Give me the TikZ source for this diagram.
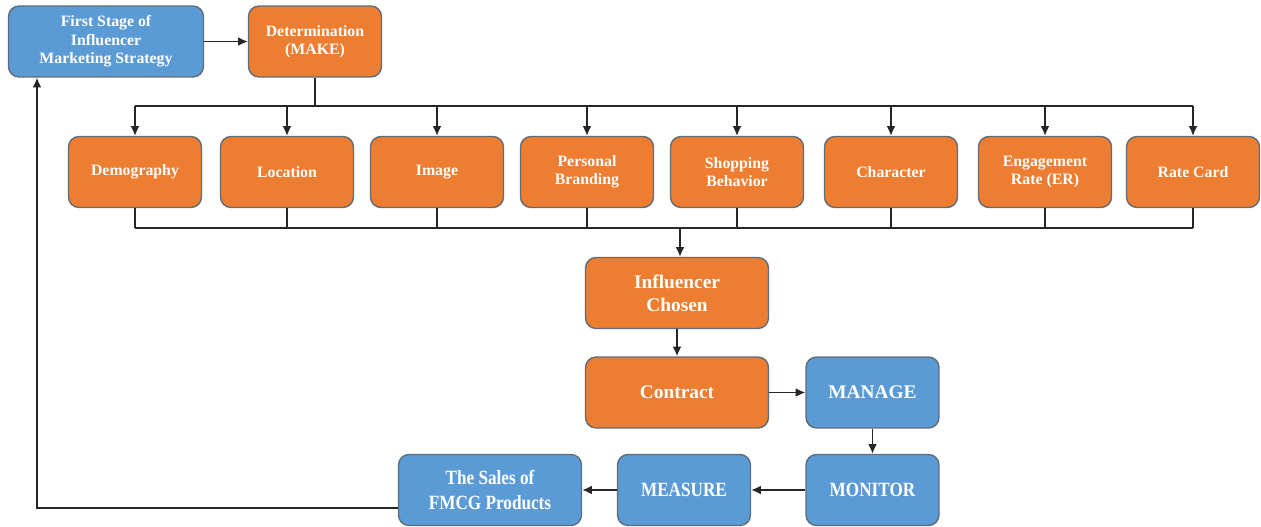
\documentclass[tikz,border=0pt]{standalone}
\usepackage{fontspec}
\setmainfont{Liberation Serif}
\newfontfamily\narrowserif[FakeStretch=0.85]{Liberation Serif}
\usetikzlibrary{arrows.meta}
\definecolor{boxblue}{HTML}{5B9BD5}
\definecolor{boxorange}{HTML}{ED7D31}
\definecolor{boxedge}{HTML}{5F6B78}
\begin{document}
\begin{tikzpicture}[x=0.02cm,y=-0.02cm,
    stagebox/.style={draw=boxedge,line width=0.8pt,rounded corners=6pt,text=white,
        font=\bfseries\fontsize{9}{10.5}\selectfont,align=center,inner sep=0pt,
        minimum width=2.66cm,minimum height=1.42cm},
    orangebox/.style={stagebox,fill=boxorange},
    bluebox/.style={stagebox,fill=boxblue},
    bigtext/.style={font=\bfseries\fontsize{11}{13}\selectfont},
    narrowtext/.style={font=\narrowserif\bfseries\fontsize{11.5}{14}\selectfont},
    link/.style={line width=0.9pt,black!85},
    tip/.style={-{Latex[length=5.5pt,width=5pt]}}]
    \useasboundingbox (0,0) rectangle (1261,527);
    % top
    \node[bluebox,minimum width=3.9cm] (first) at (106,41.5) {First Stage of\\Influencer\\Marketing Strategy};
    \node[orangebox] (make) at (315,41.5) {Determination\\(MAKE)};
    % criteria
    \node[orangebox] (demo) at (135,172) {Demography};
    \node[orangebox] (loc) at (287,172) {Location};
    \node[orangebox] (img) at (437,172) {Image};
    \node[orangebox] (brand) at (587,172) {Personal\\Branding};
    \node[orangebox] (shop) at (737,172) {Shopping\\Behavior};
    \node[orangebox] (char) at (891,172) {Character};
    \node[orangebox] (er) at (1045,172) {Engagement\\Rate (ER)};
    \node[orangebox] (rate) at (1193,172) {Rate Card};
    % choice and contract
    \node[orangebox,bigtext,minimum width=3.66cm] (chosen) at (677,293) {Influencer\\Chosen};
    \node[orangebox,bigtext,minimum width=3.66cm] (contract) at (677,392.5) {Contract};
    \node[bluebox,bigtext] (manage) at (872.5,392.5) {MANAGE};
    \node[bluebox,narrowtext] (monitor) at (872.5,490) {MONITOR};
    \node[bluebox,narrowtext] (measure) at (684,490) {MEASURE};
    \node[bluebox,narrowtext,minimum width=3.66cm] (sales) at (490,490) {The Sales of\\FMCG Products};
    % connectors
    \coordinate (topbus) at (315,106);
    \coordinate (lowbus) at (680,228);
    \draw[link,tip] (first) -- (make);
    \draw[link] (make.south) -- (topbus);
    \draw[link] (demo.north |- topbus) -- (rate.north |- topbus);
    \draw[link] (demo.south |- lowbus) -- (rate.south |- lowbus);
    \foreach \n in {demo,loc,img,brand,shop,char,er,rate}{
        \draw[link,tip] (\n.north |- topbus) -- (\n.north);
        \draw[link] (\n.south) -- (\n.south |- lowbus);
    }
    \draw[link,tip] (lowbus) -- (lowbus |- chosen.north);
    \draw[link,tip] (chosen) -- (contract);
    \draw[link,tip] (contract) -- (manage);
    \draw[link,tip] (manage) -- (monitor);
    \draw[link,tip] (monitor) -- (measure);
    \draw[link,tip] (measure) -- (sales);
    \draw[link,tip] ([yshift=-0.36cm]sales.west) -| ([xshift=-1.38cm]first.south);
\end{tikzpicture}
\end{document}
